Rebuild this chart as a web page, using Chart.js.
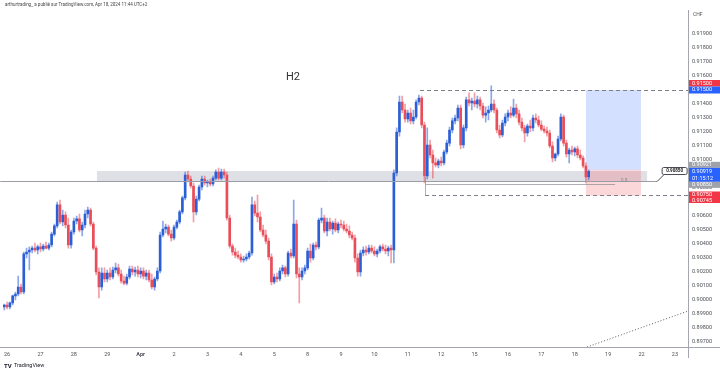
<!DOCTYPE html>
<html>
<head>
<meta charset="utf-8">
<script src="https://cdn.jsdelivr.net/npm/chart.js@4.4.1/dist/chart.umd.min.js"></script>
<style>
  html, body { margin: 0; padding: 0; background: #fff; }
  #wrap { position: relative; width: 720px; height: 372px; }
</style>
</head>
<body>
<div id="wrap"><canvas id="chart" width="720" height="372"></canvas></div>
<script>
// USD/CHF, H2 candles, Mar 25 22:00 -> Apr 18 10:00
const dayLabels = ['26', '27', '28', '29', 'Apr', '2', '3', '4', '5', '8', '9', '10', '11', '12', '15', '16', '17', '18', '19', '22', '23'];
const priceTicks = ['0.91900', '0.91800', '0.91700', '0.91600', '0.91500', '0.91400', '0.91300', '0.91200', '0.91100', '0.91000',
  '0.90900', '0.90800', '0.90700', '0.90600', '0.90500', '0.90400', '0.90300', '0.90200', '0.90100', '0.90000',
  '0.89900', '0.89800', '0.89700'];

const opens = [
  0.89950, 0.89964, 0.89950, 0.89979, 0.90029, 0.90043, 0.90093, 0.90057, 0.90329, 0.90343,
  0.90357, 0.90371, 0.90357, 0.90379, 0.90364, 0.90386, 0.90371, 0.90393, 0.90471, 0.90529,
  0.90679, 0.90557, 0.90607, 0.90536, 0.90393, 0.90486, 0.90564, 0.90579, 0.90500, 0.90536,
  0.90614, 0.90643, 0.90543, 0.90371, 0.90200, 0.90093, 0.90193, 0.90150, 0.90193, 0.90164,
  0.90214, 0.90229, 0.90186, 0.90136, 0.90121, 0.90164, 0.90221, 0.90200, 0.90214, 0.90186,
  0.90207, 0.90171, 0.90193, 0.90143, 0.90093, 0.90150, 0.90207, 0.90464, 0.90507, 0.90521,
  0.90471, 0.90443, 0.90521, 0.90557, 0.90629, 0.90729, 0.90893, 0.90864, 0.90814, 0.90629,
  0.90721, 0.90807, 0.90864, 0.90836, 0.90843, 0.90829, 0.90871, 0.90914, 0.90871, 0.90914,
  0.90893, 0.90586, 0.90386, 0.90343, 0.90321, 0.90307, 0.90286, 0.90293, 0.90307, 0.90336,
  0.90679, 0.90621, 0.90593, 0.90500, 0.90464, 0.90421, 0.90307, 0.90129, 0.90164, 0.90150,
  0.90207, 0.90229, 0.90186, 0.90336, 0.90314, 0.90543, 0.90186, 0.90164, 0.90207, 0.90229,
  0.90350, 0.90300, 0.90393, 0.90379, 0.90571, 0.90586, 0.90493, 0.90557, 0.90507, 0.90550,
  0.90500, 0.90543, 0.90536, 0.90507, 0.90493, 0.90464, 0.90443, 0.90300, 0.90200, 0.90336,
  0.90357, 0.90343, 0.90371, 0.90350, 0.90329, 0.90350, 0.90379, 0.90364, 0.90350, 0.90371,
  0.90357, 0.90907, 0.91200, 0.91414, 0.91357, 0.91293, 0.91336, 0.91279, 0.91307, 0.91414,
  0.91443, 0.91250, 0.90886, 0.91107, 0.91036, 0.90979, 0.90964, 0.90993, 0.90979, 0.91057,
  0.91121, 0.91214, 0.91279, 0.91300, 0.91371, 0.91107, 0.91229, 0.91429, 0.91407, 0.91421,
  0.91400, 0.91429, 0.91386, 0.91321, 0.91336, 0.91357, 0.91400, 0.91357, 0.91214, 0.91179,
  0.91264, 0.91307, 0.91336, 0.91321, 0.91371, 0.91329, 0.91271, 0.91229, 0.91193, 0.91243,
  0.91229, 0.91300, 0.91286, 0.91250, 0.91221, 0.91207, 0.91193, 0.91100, 0.91014, 0.91043,
  0.91150, 0.91307, 0.91121, 0.91043, 0.91071, 0.91057, 0.91079, 0.91036, 0.91014, 0.90957,
  0.90879
];
const highs = [
  0.89971, 0.89986, 0.89986, 0.90036, 0.90057, 0.90171, 0.90114, 0.90343, 0.90371, 0.90379,
  0.90386, 0.90407, 0.90393, 0.90407, 0.90400, 0.90414, 0.90407, 0.90486, 0.90543, 0.90700,
  0.90714, 0.90643, 0.90629, 0.90586, 0.90500, 0.90586, 0.90600, 0.90614, 0.90557, 0.90643,
  0.90664, 0.90657, 0.90557, 0.90386, 0.90229, 0.90229, 0.90229, 0.90214, 0.90229, 0.90236,
  0.90264, 0.90257, 0.90214, 0.90171, 0.90186, 0.90243, 0.90243, 0.90236, 0.90243, 0.90229,
  0.90229, 0.90214, 0.90214, 0.90186, 0.90164, 0.90229, 0.90486, 0.90564, 0.90543, 0.90536,
  0.90500, 0.90536, 0.90571, 0.90643, 0.90743, 0.90914, 0.90921, 0.90886, 0.90836, 0.90743,
  0.90821, 0.90886, 0.90886, 0.90857, 0.90864, 0.90886, 0.90929, 0.90943, 0.90936, 0.90936,
  0.90914, 0.90607, 0.90400, 0.90371, 0.90350, 0.90329, 0.90314, 0.90329, 0.90350, 0.90736,
  0.90707, 0.90750, 0.90629, 0.90536, 0.90500, 0.90443, 0.90329, 0.90186, 0.90193, 0.90229,
  0.90250, 0.90243, 0.90350, 0.90364, 0.90714, 0.90571, 0.90229, 0.90229, 0.90250, 0.90371,
  0.90400, 0.90407, 0.90414, 0.90586, 0.90657, 0.90607, 0.90586, 0.90586, 0.90564, 0.90579,
  0.90557, 0.90571, 0.90564, 0.90543, 0.90529, 0.90486, 0.90464, 0.90329, 0.90357, 0.90379,
  0.90386, 0.90393, 0.90393, 0.90379, 0.90364, 0.90393, 0.90400, 0.90393, 0.90386, 0.90393,
  0.90929, 0.91229, 0.91457, 0.91457, 0.91400, 0.91357, 0.91371, 0.91357, 0.91429, 0.91464,
  0.91457, 0.91271, 0.91229, 0.91143, 0.91071, 0.91014, 0.91007, 0.91021, 0.91071, 0.91143,
  0.91236, 0.91300, 0.91321, 0.91393, 0.91393, 0.91250, 0.91450, 0.91479, 0.91443, 0.91479,
  0.91457, 0.91450, 0.91407, 0.91379, 0.91386, 0.91529, 0.91429, 0.91371, 0.91250, 0.91286,
  0.91329, 0.91357, 0.91379, 0.91436, 0.91400, 0.91357, 0.91300, 0.91250, 0.91257, 0.91286,
  0.91321, 0.91329, 0.91314, 0.91279, 0.91243, 0.91236, 0.91214, 0.91129, 0.91050, 0.91171,
  0.91329, 0.91321, 0.91143, 0.91086, 0.91100, 0.91093, 0.91100, 0.91071, 0.91029, 0.90979,
  0.90929
];
const lows = [
  0.89929, 0.89936, 0.89936, 0.89964, 0.90000, 0.90029, 0.90043, 0.90043, 0.90300, 0.90214,
  0.90336, 0.90343, 0.90329, 0.90343, 0.90350, 0.90364, 0.90357, 0.90379, 0.90457, 0.90514,
  0.90543, 0.90529, 0.90514, 0.90371, 0.90371, 0.90471, 0.90543, 0.90486, 0.90457, 0.90514,
  0.90586, 0.90529, 0.90357, 0.90179, 0.90014, 0.90071, 0.90129, 0.90129, 0.90143, 0.90150,
  0.90193, 0.90171, 0.90121, 0.90107, 0.90107, 0.90150, 0.90179, 0.90171, 0.90164, 0.90157,
  0.90150, 0.90143, 0.90129, 0.90079, 0.90071, 0.90136, 0.90193, 0.90450, 0.90479, 0.90457,
  0.90421, 0.90429, 0.90507, 0.90543, 0.90614, 0.90714, 0.90843, 0.90800, 0.90557, 0.90607,
  0.90707, 0.90786, 0.90821, 0.90807, 0.90814, 0.90814, 0.90857, 0.90857, 0.90857, 0.90871,
  0.90571, 0.90371, 0.90321, 0.90300, 0.90293, 0.90271, 0.90271, 0.90279, 0.90293, 0.90321,
  0.90600, 0.90557, 0.90486, 0.90450, 0.90400, 0.90286, 0.90107, 0.90114, 0.90129, 0.90136,
  0.90186, 0.90164, 0.90171, 0.90300, 0.90300, 0.90157, 0.89979, 0.90143, 0.90186, 0.90214,
  0.90271, 0.90286, 0.90357, 0.90364, 0.90550, 0.90479, 0.90457, 0.90493, 0.90471, 0.90486,
  0.90479, 0.90514, 0.90493, 0.90479, 0.90443, 0.90429, 0.90271, 0.90171, 0.90171, 0.90314,
  0.90321, 0.90329, 0.90336, 0.90314, 0.90307, 0.90336, 0.90350, 0.90329, 0.90314, 0.90264,
  0.90264, 0.90886, 0.91171, 0.91336, 0.91271, 0.91271, 0.91257, 0.91257, 0.91293, 0.91393,
  0.91229, 0.90836, 0.90864, 0.91014, 0.90871, 0.90950, 0.90943, 0.90957, 0.90964, 0.91043,
  0.91100, 0.91193, 0.91257, 0.91279, 0.91079, 0.91086, 0.91207, 0.91386, 0.91357, 0.91379,
  0.91371, 0.91357, 0.91300, 0.91271, 0.91286, 0.91343, 0.91336, 0.91193, 0.91157, 0.91164,
  0.91243, 0.91279, 0.91300, 0.91307, 0.91300, 0.91250, 0.91207, 0.91129, 0.91171, 0.91200,
  0.91207, 0.91264, 0.91236, 0.91207, 0.91193, 0.91171, 0.91086, 0.90986, 0.90993, 0.91029,
  0.91136, 0.91100, 0.91021, 0.90979, 0.91036, 0.91029, 0.91014, 0.91000, 0.90943, 0.90836,
  0.90857
];
const closes = [
  0.89964, 0.89950, 0.89979, 0.90029, 0.90043, 0.90093, 0.90057, 0.90329, 0.90343, 0.90357,
  0.90371, 0.90357, 0.90379, 0.90364, 0.90386, 0.90371, 0.90393, 0.90471, 0.90529, 0.90679,
  0.90557, 0.90607, 0.90536, 0.90393, 0.90486, 0.90564, 0.90579, 0.90500, 0.90536, 0.90614,
  0.90643, 0.90543, 0.90371, 0.90200, 0.90093, 0.90193, 0.90150, 0.90193, 0.90164, 0.90214,
  0.90229, 0.90186, 0.90136, 0.90121, 0.90164, 0.90221, 0.90200, 0.90214, 0.90186, 0.90207,
  0.90171, 0.90193, 0.90143, 0.90093, 0.90150, 0.90207, 0.90464, 0.90507, 0.90521, 0.90471,
  0.90443, 0.90521, 0.90557, 0.90629, 0.90729, 0.90893, 0.90864, 0.90814, 0.90629, 0.90721,
  0.90807, 0.90864, 0.90836, 0.90843, 0.90829, 0.90871, 0.90914, 0.90871, 0.90914, 0.90893,
  0.90586, 0.90386, 0.90343, 0.90321, 0.90307, 0.90286, 0.90293, 0.90307, 0.90336, 0.90679,
  0.90621, 0.90593, 0.90500, 0.90464, 0.90421, 0.90307, 0.90129, 0.90164, 0.90150, 0.90207,
  0.90229, 0.90186, 0.90336, 0.90314, 0.90543, 0.90186, 0.90164, 0.90207, 0.90229, 0.90350,
  0.90300, 0.90393, 0.90379, 0.90571, 0.90586, 0.90493, 0.90557, 0.90507, 0.90550, 0.90500,
  0.90543, 0.90536, 0.90507, 0.90493, 0.90464, 0.90443, 0.90300, 0.90200, 0.90336, 0.90357,
  0.90343, 0.90371, 0.90350, 0.90329, 0.90350, 0.90379, 0.90364, 0.90350, 0.90371, 0.90357,
  0.90907, 0.91200, 0.91414, 0.91357, 0.91293, 0.91336, 0.91279, 0.91307, 0.91414, 0.91443,
  0.91250, 0.90886, 0.91107, 0.91036, 0.90979, 0.90964, 0.90993, 0.90979, 0.91057, 0.91121,
  0.91214, 0.91279, 0.91300, 0.91371, 0.91107, 0.91229, 0.91429, 0.91407, 0.91421, 0.91400,
  0.91429, 0.91386, 0.91321, 0.91336, 0.91357, 0.91400, 0.91357, 0.91214, 0.91179, 0.91264,
  0.91307, 0.91336, 0.91321, 0.91371, 0.91329, 0.91271, 0.91229, 0.91193, 0.91243, 0.91229,
  0.91300, 0.91286, 0.91250, 0.91221, 0.91207, 0.91193, 0.91100, 0.91014, 0.91043, 0.91150,
  0.91307, 0.91121, 0.91043, 0.91071, 0.91057, 0.91079, 0.91036, 0.91014, 0.90957, 0.90879,
  0.90919
];

const UP = '#2b5fd6';
const DOWN = '#e94d59';
const UP_WICK = 'rgba(43,95,214,0.55)';
const DOWN_WICK = 'rgba(233,77,89,0.55)';
const FONT = 'Roboto, "Liberation Sans", sans-serif';

// drawings, in bar index / price units
const zone = { from: 33.3, to: 231, top: 0.90921, bottom: 0.90850 };
const trade = { from: 209, to: 228.8, target: 0.91500, entry: 0.90929, stop: 0.90745 };

const isUp = opens.map((o, i) => closes[i] >= o);

function yPx(chart, p) { return chart.scales.y.getPixelForValue(p); }
function xPx(chart, i) { return chart.scales.x.getPixelForValue(i); }

function tag(ctx, top, h, bg, fg, lines) {
  ctx.fillStyle = bg;
  ctx.fillRect(689, top, 31, h);
  ctx.fillStyle = fg;
  ctx.font = '5.5px ' + FONT;
  ctx.textBaseline = 'middle';
  ctx.textAlign = 'left';
  const step = h / lines.length;
  lines.forEach((t, k) => ctx.fillText(t, 692, top + step * (k + 0.5)));
}

const drawings = {
  id: 'drawings',
  beforeDatasetsDraw(chart) {
    const { ctx, chartArea: a } = chart;
    ctx.save();
    ctx.beginPath();
    ctx.rect(a.left, a.top, a.right - a.left, a.bottom - a.top);
    ctx.clip();
    // zone
    const zx1 = xPx(chart, zone.from), zx2 = xPx(chart, zone.to);
    const zy1 = yPx(chart, zone.top), zy2 = yPx(chart, zone.bottom);
    ctx.fillStyle = 'rgba(178,181,192,0.42)';
    ctx.fillRect(zx1, zy1, zx2 - zx1, zy2 - zy1);
    // long position
    const px1 = xPx(chart, trade.from), px2 = xPx(chart, trade.to);
    const pt = yPx(chart, trade.target), pe = yPx(chart, trade.entry), ps = yPx(chart, trade.stop);
    ctx.fillStyle = 'rgba(41,98,255,0.2)';
    ctx.fillRect(px1, pt, px2 - px1, pe - pt);
    ctx.fillStyle = 'rgba(242,54,69,0.2)';
    ctx.fillRect(px1, pe, px2 - px1, ps - pe);
    ctx.restore();
  },
  afterDatasetsDraw(chart) {
    const { ctx, chartArea: a } = chart;
    ctx.save();
    ctx.beginPath();
    ctx.rect(a.left, a.top, a.right - a.left, a.bottom - a.top);
    ctx.clip();
    ctx.lineWidth = 1;
    // horizontal level at zone bottom
    const hl = Math.round(yPx(chart, 0.90850)) + 0.5;
    ctx.strokeStyle = '#9a9da6';
    ctx.beginPath();
    ctx.moveTo(a.left, hl);
    ctx.lineTo(xPx(chart, 234.6), hl);
    ctx.stroke();
    // dashed range lines
    ctx.strokeStyle = '#7d808a';
    ctx.setLineDash([4, 3]);
    const tdy = Math.round(yPx(chart, 0.91500)) + 0.5;
    const bdy = Math.round(yPx(chart, 0.90750)) + 0.5;
    ctx.beginPath();
    ctx.moveTo(xPx(chart, 149.4), tdy);
    ctx.lineTo(a.right, tdy);
    ctx.moveTo(xPx(chart, 151.2), bdy);
    ctx.lineTo(a.right, bdy);
    ctx.stroke();
    ctx.setLineDash([]);
    // small measure lines
    ctx.strokeStyle = 'rgba(120,123,134,0.6)';
    const vx = Math.round(xPx(chart, 151.2)) + 0.5;
    const my = Math.round(yPx(chart, 0.90829)) + 0.5;
    ctx.beginPath();
    ctx.moveTo(vx, yPx(chart, 0.90879));
    ctx.lineTo(vx, bdy);
    ctx.moveTo(vx, my);
    ctx.lineTo(xPx(chart, 219.5), my);
    ctx.stroke();
    ctx.fillStyle = '#8a8d96';
    ctx.font = '5px ' + FONT;
    ctx.textBaseline = 'middle';
    ctx.fillText('0.8', xPx(chart, 221.5), yPx(chart, 0.90850));
    // dotted trend line
    ctx.strokeStyle = '#555a66';
    ctx.setLineDash([1, 2]);
    ctx.beginPath();
    ctx.moveTo(xPx(chart, 209.4), yPx(chart, 0.89664));
    ctx.lineTo(xPx(chart, 245.7), yPx(chart, 0.89921));
    ctx.stroke();
    ctx.setLineDash([]);
    // callout label
    const cx = xPx(chart, 236.4);
    ctx.strokeStyle = '#4a4d57';
    ctx.beginPath();
    ctx.moveTo(cx + 2, hl - 7);
    ctx.lineTo(xPx(chart, 234.6), hl);
    ctx.stroke();
    ctx.fillStyle = '#fff';
    ctx.beginPath();
    ctx.roundRect(cx, hl - 14, 25, 7, 1.5);
    ctx.fill();
    ctx.stroke();
    ctx.fillStyle = '#222';
    ctx.font = 'bold 4.5px ' + FONT;
    ctx.textAlign = 'center';
    ctx.fillText('0.90850', cx + 12.5, hl - 10.5);
    ctx.restore();

    // titles
    ctx.save();
    ctx.fillStyle = '#333';
    ctx.font = '11px ' + FONT;
    ctx.textBaseline = 'middle';
    ctx.fillText('H2', 286, 77);
    ctx.restore();
  },
  afterDraw(chart) {
    const { ctx } = chart;
    ctx.save();
    // frame lines
    ctx.strokeStyle = '#a3a6af';
    ctx.lineWidth = 1;
    ctx.beginPath();
    ctx.moveTo(0, 347.5);
    ctx.lineTo(720, 347.5);
    ctx.moveTo(688.5, 10);
    ctx.lineTo(688.5, 358);
    ctx.stroke();
    // axis price tags
    const t = yPx(chart, 0.91500);
    tag(ctx, t - 10, 6.5, '#f23645', '#fff', ['0.91500']);
    tag(ctx, t - 3.5, 7, '#2962ff', '#fff', ['0.91500']);
    const c = yPx(chart, 0.90919);
    tag(ctx, c - 9.5, 6, '#9fa2ab', '#fff', ['0.90921']);
    tag(ctx, c - 3.5, 14, '#2962ff', '#fff', ['0.90919', '01:15:12']);
    tag(ctx, c + 10.5, 6, '#9fa2ab', '#fff', ['0.90850']);
    const s = yPx(chart, 0.90750);
    tag(ctx, s - 3.5, 11.5, '#f23645', '#fff', ['0.90750', '0.90745']);
    // currency
    ctx.fillStyle = '#555';
    ctx.font = '5px ' + FONT;
    ctx.textBaseline = 'middle';
    ctx.textAlign = 'left';
    ctx.fillText('CHF', 693, 15);
    // header and footer
    ctx.fillStyle = '#444';
    ctx.font = '4.5px ' + FONT;
    ctx.fillText('arthurtrading_ a publié sur TradingView.com, Apr 18, 2024 11:44 UTC+2', 5, 5);
    ctx.fillStyle = '#131722';
    ctx.font = 'bold 6px ' + FONT;
    ctx.fillText('TV', 4, 366);
    ctx.font = '5.5px ' + FONT;
    ctx.fillText('TradingView', 14, 366);
    ctx.restore();
  }
};

new Chart(document.getElementById('chart'), {
  type: 'bar',
  data: {
    datasets: [
      {
        label: 'body',
        data: opens.map((o, i) => ({ x: i, y: [o, closes[i]] })),
        backgroundColor: isUp.map(u => (u ? UP : DOWN)),
        barThickness: 2,
        minBarLength: 1,
        grouped: false,
        borderWidth: 0
      },
      {
        label: 'wick',
        data: lows.map((l, i) => ({ x: i, y: [l, highs[i]] })),
        backgroundColor: isUp.map(u => (u ? UP_WICK : DOWN_WICK)),
        barThickness: 1,
        grouped: false,
        borderWidth: 0
      }
    ]
  },
  options: {
    responsive: false,
    animation: false,
    devicePixelRatio: 1,
    layout: { padding: { top: 10, left: 0, right: 0, bottom: 0 } },
    plugins: { legend: { display: false }, tooltip: { enabled: false } },
    scales: {
      x: {
        type: 'linear',
        offset: false,
        min: -1.5,
        max: 245.7,
        grid: { display: false, drawTicks: false },
        border: { display: false },
        afterBuildTicks: scale => {
          scale.ticks = dayLabels.map((d, k) => ({ value: 1 + 12 * k }));
        },
        afterFit: scale => { scale.height = 25; },
        ticks: {
          autoSkip: false,
          maxRotation: 0,
          padding: 4,
          color: '#4c4f57',
          font: ctx => ({ family: FONT, size: 5.5, weight: dayLabels[ctx.index] === 'Apr' ? 'bold' : 'normal' }),
          callback: (v, k) => dayLabels[k]
        }
      },
      y: {
        position: 'right',
        min: 0.915 - 257 / 14000,
        max: 0.915 + 80 / 14000,
        grid: { display: false, drawTicks: false },
        border: { display: false },
        afterBuildTicks: scale => {
          scale.ticks = priceTicks.map(p => ({ value: parseFloat(p) }));
        },
        afterFit: scale => { scale.width = 32; },
        ticks: {
          autoSkip: false,
          padding: 4,
          color: '#4c4f57',
          font: { family: FONT, size: 5.5 },
          callback: (v, k) => priceTicks[k]
        }
      }
    }
  },
  plugins: [drawings]
});
</script>
</body>
</html>
